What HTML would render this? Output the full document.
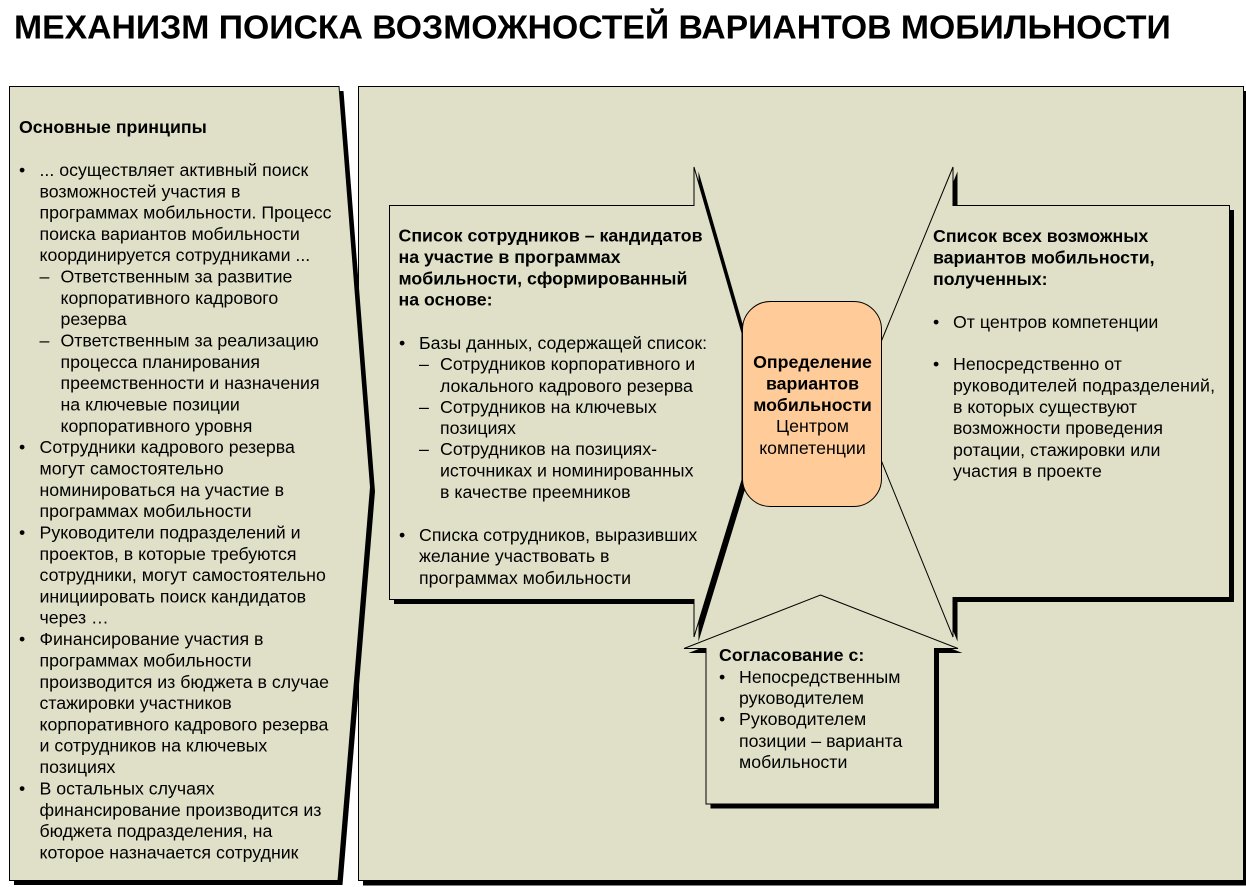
<!DOCTYPE html>
<html lang="ru">
<head>
<meta charset="utf-8">
<style>
html,body{margin:0;padding:0;background:#fff;width:1246px;height:887px;overflow:hidden}
svg{display:block}
text{font-family:"Liberation Sans",Arial,sans-serif;font-size:17.75px;fill:#000}
.b{font-weight:bold}
.t{font-weight:bold;font-size:33.76px}
.c{text-anchor:middle}
.s{fill:#000;stroke:none}
.f{fill:#E0E0C8;stroke:#000;stroke-width:1}
</style>
</head>
<body>
<svg width="1246" height="887" viewBox="0 0 1246 887" xmlns="http://www.w3.org/2000/svg">
<text class="t" x="14" y="38.5">МЕХАНИЗМ ПОИСКА ВОЗМОЖНОСТЕЙ ВАРИАНТОВ МОБИЛЬНОСТИ</text>

<!-- right panel -->
<rect class="s" x="363" y="91" width="883" height="794.5"/>
<rect class="f" x="358.5" y="86.5" width="885" height="794"/>

<!-- left panel -->
<polygon class="s" transform="translate(4.5,4.5)" points="9.5,86.5 339,86.5 370.5,487 338,880.5 9.5,880.5"/>
<polygon class="f" points="9.5,86.5 339,86.5 370.5,487 338,880.5 9.5,880.5"/>

<!-- left callout -->
<polygon class="s" transform="translate(4.5,4.5)" points="389.5,205.5 694,205.5 694,167 742,333 742,480 694,637 694,599.5 389.5,599.5"/>
<polygon class="f" points="389.5,205.5 694,205.5 694,167 742,333 742,480 694,637 694,599.5 389.5,599.5"/>

<!-- right callout -->
<polygon class="s" transform="translate(4.5,4.5)" points="953,167 953,205.5 1229.5,205.5 1229.5,597.5 953,597.5 953,637 881,460 881,342"/>
<polygon class="f" points="953,167 953,205.5 1229.5,205.5 1229.5,597.5 953,597.5 953,637 881,460 881,342"/>

<!-- house -->
<polygon class="s" transform="translate(4.5,4.5)" points="820.5,595 958,648.5 934.5,648.5 934.5,804 706,804 706,648.5 684,648.5"/>
<polygon class="f" points="820.5,595 958,648.5 934.5,648.5 934.5,804 706,804 706,648.5 684,648.5"/>

<!-- centre -->
<rect x="742.5" y="301.5" width="139" height="205" rx="28" ry="28" fill="#FFCC99" stroke="#000" stroke-width="1"/>

<!-- left text -->
<text class="b" x="19" y="133">Основные принципы</text>
<text x="19" y="176">•</text><text x="39.5" y="176">... осуществляет активный поиск</text>
<text x="39.5" y="197.3">возможностей участия в</text>
<text x="39.5" y="218.6">программах мобильности. Процесс</text>
<text x="39.5" y="239.9">поиска вариантов мобильности</text>
<text x="39.5" y="261.2">координируется сотрудниками ...</text>
<text x="39.5" y="282.5">–</text><text x="60.5" y="282.5">Ответственным за развитие</text>
<text x="60.5" y="303.8">корпоративного кадрового</text>
<text x="60.5" y="325.1">резерва</text>
<text x="39.5" y="346.6">–</text><text x="60.5" y="346.6">Ответственным за реализацию</text>
<text x="60.5" y="367.9">процесса планирования</text>
<text x="60.5" y="389.2">преемственности и назначения</text>
<text x="60.5" y="410.5">на ключевые позиции</text>
<text x="60.5" y="431.8">корпоративного уровня</text>
<text x="19" y="453.1">•</text><text x="39.5" y="453.1">Сотрудники кадрового резерва</text>
<text x="39.5" y="474.6">могут самостоятельно</text>
<text x="39.5" y="495.9">номинироваться на участие в</text>
<text x="39.5" y="517.2">программах мобильности</text>
<text x="19" y="538.5">•</text><text x="39.5" y="538.5">Руководители подразделений и</text>
<text x="39.5" y="559.8">проектов, в которые требуются</text>
<text x="39.5" y="581.1">сотрудники, могут самостоятельно</text>
<text x="39.5" y="602.4">инициировать поиск кандидатов</text>
<text x="39.5" y="623.7">через …</text>
<text x="19" y="645">•</text><text x="39.5" y="645">Финансирование участия в</text>
<text x="39.5" y="666.5">программах мобильности</text>
<text x="39.5" y="687.8">производится из бюджета в случае</text>
<text x="39.5" y="709.1">стажировки участников</text>
<text x="39.5" y="730.4">корпоративного кадрового резерва</text>
<text x="39.5" y="751.7">и сотрудников на ключевых</text>
<text x="39.5" y="773">позициях</text>
<text x="19" y="794.5">•</text><text x="39.5" y="794.5">В остальных случаях</text>
<text x="39.5" y="815.8">финансирование производится из</text>
<text x="39.5" y="837.1">бюджета подразделения, на</text>
<text x="39.5" y="858.5">которое назначается сотрудник</text>

<!-- left callout text -->
<text class="b" x="398.5" y="241.5">Список сотрудников – кандидатов</text>
<text class="b" x="398.5" y="263">на участие в программах</text>
<text class="b" x="398.5" y="284.3">мобильности, сформированный</text>
<text class="b" x="398.5" y="305.6">на основе:</text>
<text x="399" y="349">•</text><text x="419" y="349">Базы данных, содержащей список:</text>
<text x="419" y="370">–</text><text x="440" y="370">Сотрудников корпоративного и</text>
<text x="440" y="392">локального кадрового резерва</text>
<text x="419" y="413">–</text><text x="440" y="413">Сотрудников на ключевых</text>
<text x="440" y="434">позициях</text>
<text x="419" y="455">–</text><text x="440" y="455">Сотрудников на позициях-</text>
<text x="440" y="476.5">источниках и номинированных</text>
<text x="440" y="498">в качестве преемников</text>
<text x="399" y="541">•</text><text x="419" y="541">Списка сотрудников, выразивших</text>
<text x="419" y="562">желание участвовать в</text>
<text x="419" y="584">программах мобильности</text>

<!-- right callout text -->
<text class="b" x="933" y="242">Список всех возможных</text>
<text class="b" x="933" y="263.5">вариантов мобильности,</text>
<text class="b" x="933" y="285">полученных:</text>
<text x="933" y="328">•</text><text x="953" y="328">От центров компетенции</text>
<text x="933" y="370">•</text><text x="953" y="370">Непосредственно от</text>
<text x="953" y="391.5" textLength="262">руководителей подразделений,</text>
<text x="953" y="413">в которых существуют</text>
<text x="953" y="434">возможности проведения</text>
<text x="953" y="456">ротации, стажировки или</text>
<text x="953" y="477">участия в проекте</text>

<!-- centre text -->
<text class="b c" x="812.5" y="368">Определение</text>
<text class="b c" x="812.5" y="389.5">вариантов</text>
<text class="b c" x="812.5" y="411">мобильности</text>
<text class="c" x="812.5" y="432">Центром</text>
<text class="c" x="812.5" y="454">компетенции</text>

<!-- house text -->
<text class="b" x="719" y="661">Согласование с:</text>
<text x="719" y="683">•</text><text x="739" y="683">Непосредственным</text>
<text x="739" y="704">руководителем</text>
<text x="719" y="725">•</text><text x="739" y="725">Руководителем</text>
<text x="739" y="747">позиции – варианта</text>
<text x="739" y="768">мобильности</text>
</svg>
</body>
</html>
